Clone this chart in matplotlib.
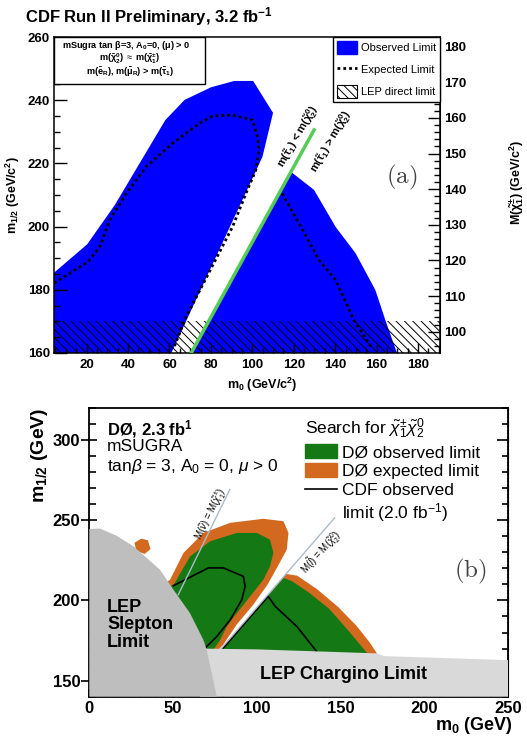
import matplotlib
matplotlib.use('Agg')
import matplotlib.pyplot as plt
from matplotlib.patches import Patch, Rectangle
from matplotlib.lines import Line2D
from matplotlib.ticker import MultipleLocator

plt.rcParams['font.family'] = ['Liberation Sans', 'DejaVu Sans']
plt.rcParams['mathtext.fontset'] = 'custom'
plt.rcParams['mathtext.rm'] = 'Liberation Sans'
plt.rcParams['mathtext.it'] = 'Liberation Sans:italic'
plt.rcParams['mathtext.bf'] = 'Liberation Sans:bold'
plt.rcParams['hatch.linewidth'] = 0.7

# ---------------- panel (a): CDF ----------------
obs_left_m0 = [4.3, 4.3, 20.3, 33.6, 58.0, 67.3, 80.1, 91.3, 100.4, 110.0, 104.9, 60.9]
obs_left_m12 = [160, 185.4, 194.4, 206.8, 233.7, 240.1, 244.1, 246.1, 246.1, 236.0, 222.1, 160]
obs_right_m0 = [70.5, 118.7, 129.8, 140.2, 149.8, 159.4, 164.2, 169.8]
obs_right_m12 = [160, 217.3, 211.6, 199.9, 191.6, 179.9, 170.4, 160]

exp_left_m0 = [4.3, 20.8, 26.4, 31.2, 39.2, 48.8, 61.6, 74.5, 80.9, 90.5, 100.1, 102.5,
               103.3, 101.7, 96.9, 90.5, 68.1, 62.0]
exp_left_m12 = [182.1, 188.9, 193.6, 202.1, 210.5, 219.0, 226.4, 232.7, 235.0, 235.3, 233.7,
                228.4, 224.2, 217.9, 210.5, 200.0, 171.5, 161.5]
exp_right_m0 = [114.4, 123.4, 132.2, 140.2, 149.0, 157.8]
exp_right_m12 = [210.5, 200.0, 189.4, 183.1, 170.4, 161.5]

tau_line_m0 = [70.5, 129.8]      # m(stau1) = m(chi20)
tau_line_m12 = [160.0, 230.6]
lep_direct_m12 = 170.2           # LEP direct chargino limit

a_xticks = [20, 40, 60, 80, 100, 120, 140, 160, 180]
a_yticks = [160, 180, 200, 220, 240, 260]
a_rticks = [100, 110, 120, 130, 140, 150, 160, 170, 180]

# ---------------- panel (b): D0 ----------------
orng_left_m0 = [48.2, 56.2, 68.1, 84.1, 103.9, 115.9, 118.9, 117.9, 112.5, 106.5, 98.0, 88.0, 80.0, 77.0, 70, 30]
orng_left_m12 = [212.9, 229.6, 242.1, 248.4, 250.9, 249.4, 242.1, 231.7, 221.3, 210.0, 197.5, 185.0, 172.5, 169.2, 150, 200]
grn_left_m0 = [50.5, 60.2, 72.2, 88.1, 100.0, 107.9, 109.9, 107.9, 103.9, 96.0, 88.1, 82.1, 78.1, 74.1, 70, 30]
grn_left_m12 = [210, 227.5, 236.9, 242.1, 242.1, 237.9, 229.6, 221.3, 212.9, 202.5, 192.1, 183.8, 175.4, 169.2, 150, 200]
orng_right_m0 = [70, 117.5, 124, 136, 148.5, 159.7, 167.7, 171.7, 172]
orng_right_m12 = [159.6, 216.5, 215.5, 207, 196, 184, 173.4, 167, 155]
grn_right_m0 = [71.5, 116, 121, 131, 143, 154, 162, 166, 166]
grn_right_m12 = [161, 214, 212, 205, 195, 182, 172, 167, 155]
orng_blob_m0 = [27, 31, 35, 36.5, 33, 28]
orng_blob_m12 = [236, 238.5, 237.5, 232, 229, 231]

cdf_left_m0 = [50.2, 71.1, 80.0, 92.0, 93.0, 91.0, 84.1, 76.1, 69.1]
cdf_left_m12 = [209.2, 220.3, 220.3, 215.0, 208.8, 200.4, 187.9, 177.5, 170.3]
cdf_right_m0 = [80.0, 106.8, 111.0, 123.9, 135.8]
cdf_right_m12 = [170.3, 202.6, 196.3, 183.8, 168.1]

snu_line_m0 = [53.1, 83.9]       # M(snu) = M(chi1+-)
snu_line_m12 = [203.6, 269.2]
slep_line_m0 = [78.1, 146.5]     # M(slepton) = M(chi20)
slep_line_m12 = [169.2, 251.5]

slepton_m0 = [0, 6.4, 16, 26.3, 42.2, 50.2, 60.1, 68.1, 70.1, 76.1, 0]
slepton_m12 = [244.6, 244.8, 240.5, 233.8, 219.2, 206.7, 192.1, 175.4, 169.2, 140, 140]
chargino_m0 = [66, 100, 172, 176, 250, 250, 66]
chargino_m12 = [170, 169.5, 167, 165.3, 162.8, 140, 140]

b_xticks = [0, 50, 100, 150, 200, 250]
b_yticks = [150, 200, 250, 300]


def cdf_to_chargino(m):
    return 0.887 * m - 47.9


def chargino_to_cdf(mc):
    return (mc + 47.9) / 0.887


fig = plt.figure(figsize=(5.27, 7.36), dpi=100)

# ======================= panel (a) =======================
ax = fig.add_axes([0.1025, 0.5204, 0.7325, 0.4293])
ax.fill(obs_left_m0, obs_left_m12, color='#0000ff', lw=0, zorder=1)
ax.fill(obs_right_m0, obs_right_m12, color='#0000ff', lw=0, zorder=1)
ax.axhspan(160, lep_direct_m12, facecolor='none', edgecolor='black', hatch='\\\\\\\\', lw=0, zorder=2)
ax.plot(exp_left_m0, exp_left_m12, color='black', ls=(0, (1, 1.1)), lw=2, zorder=3)
ax.plot(exp_right_m0, exp_right_m12, color='black', ls=(0, (1, 1.1)), lw=2, zorder=3)
ax.plot(tau_line_m0, tau_line_m12, color='#55cc55', lw=2.5, zorder=3)

ax.text(122.3, 228.6, r'm($\mathbf{\tilde{\tau}_1}$) < m($\mathbf{\tilde{\chi}^0_2}$)', rotation=60,
        ha='center', va='center', fontsize=8, fontweight='bold')
ax.text(138.0, 226.9, r'm($\mathbf{\tilde{\tau}_1}$) > m($\mathbf{\tilde{\chi}^0_2}$)', rotation=60,
        ha='center', va='center', fontsize=8, fontweight='bold')
ax.text(172, 215.7, r'$\mathrm{(a)}$', math_fontfamily='cm', fontsize=18, color='#444444',
        ha='center', va='center')

ax.set_xlim(4.3, 190.6)
ax.set_ylim(160, 260)
ax.set_xticks(a_xticks, labels=[str(v) for v in a_xticks], fontweight='bold', fontsize=9.5)
ax.set_yticks(a_yticks, labels=[str(v) for v in a_yticks], fontweight='bold', fontsize=9.5)
ax.xaxis.set_minor_locator(MultipleLocator(5))
ax.yaxis.set_minor_locator(MultipleLocator(5))
ax.tick_params(axis='x', which='major', direction='in', length=7, width=1, pad=4)
ax.tick_params(axis='x', which='minor', direction='in', length=3.5, width=1)
ax.tick_params(axis='y', which='major', direction='in', length=9, width=1, pad=3)
ax.tick_params(axis='y', which='minor', direction='in', length=4.5, width=1)
for s in ax.spines.values():
    s.set_linewidth(1.1)

sec = ax.secondary_yaxis('right', functions=(cdf_to_chargino, chargino_to_cdf))
sec.set_yticks(a_rticks, labels=[str(v) for v in a_rticks], fontweight='bold', fontsize=9.5)
sec.yaxis.set_minor_locator(MultipleLocator(2))
sec.tick_params(which='major', direction='in', length=8.5, width=1, pad=3)
sec.tick_params(which='minor', direction='in', length=4.5, width=1)
fig.text(517 / 527, 1 - 182 / 736, r'M($\mathbf{\tilde{\chi}^{\pm}_1}$) (GeV/c$^{\mathbf{2}}$)',
         fontweight='bold', fontsize=9, rotation=90, ha='center', va='center')

ax.set_xlabel(r'm$_{\mathbf{0}}$ (GeV/c$^{\mathbf{2}}$)', fontweight='bold', fontsize=9)
ax.xaxis.set_label_coords(0.539, -0.072)
ax.set_ylabel(r'm$_{\mathbf{1/2}}$ (GeV/c$^{\mathbf{2}}$)', fontweight='bold', fontsize=9)
ax.yaxis.set_label_coords(-0.083, 0.5)

# info box top left
ax.add_patch(Rectangle((0, 0.851), 0.391, 0.149, transform=ax.transAxes, fc='white', ec='black',
                       lw=1, zorder=5))
ax.text(0.02, 0.973, r'mSugra tan $\mathbf{\beta}$=3, A$_{\mathbf{0}}$=0, ($\mathbf{\mu}$) > 0',
        transform=ax.transAxes, fontsize=6.6, fontweight='bold', va='center', zorder=6)
ax.text(0.197, 0.931, r'm($\mathbf{\tilde{\chi}^0_2}$) $\approx$ m($\mathbf{\tilde{\chi}^{\pm}_1}$)',
        transform=ax.transAxes, fontsize=6.6, fontweight='bold', ha='center', va='center', zorder=6)
ax.text(0.197, 0.889, r'm($\mathbf{\tilde{e}_R}$), m($\mathbf{\tilde{\mu}_R}$) > m($\mathbf{\tilde{\tau}_1}$)',
        transform=ax.transAxes, fontsize=6.6, fontweight='bold', ha='center', va='center', zorder=6)

handles_a = [Patch(fc='#0000ff', ec='#0000ff'),
             Line2D([], [], color='black', ls=(0, (1, 1.1)), lw=2),
             Patch(fc='white', ec='black', hatch='\\\\\\\\', lw=0.8)]
leg_a = ax.legend(handles_a, ['Observed Limit', 'Expected Limit', 'LEP direct limit'],
                  loc='upper right', bbox_to_anchor=(1, 1), borderaxespad=0, fontsize=8,
                  frameon=True, fancybox=False, edgecolor='black', framealpha=1,
                  handlelength=1.8, handleheight=1.5, labelspacing=0.75, borderpad=0.35,
                  handletextpad=0.4)
leg_a.get_frame().set_linewidth(1)
leg_a.set_zorder(6)

fig.text(0.047, 0.969, r'CDF Run II Preliminary, 3.2 fb$^{\mathbf{-1}}$', fontsize=12,
         fontweight='bold')

# ======================= panel (b) =======================
bx = fig.add_axes([0.1695, 0.0534, 0.7945, 0.3923])
bx.fill(orng_left_m0, orng_left_m12, color='#d2691e', lw=0, zorder=1)
bx.fill(orng_right_m0, orng_right_m12, color='#d2691e', lw=0, zorder=1)
bx.fill(orng_blob_m0, orng_blob_m12, color='#d2691e', lw=0, zorder=1)
bx.fill(grn_left_m0, grn_left_m12, color='#147814', lw=0, zorder=2)
bx.fill(grn_right_m0, grn_right_m12, color='#147814', lw=0, zorder=2)
bx.plot(cdf_left_m0, cdf_left_m12, color='black', lw=1.2, zorder=3)
bx.plot(cdf_right_m0, cdf_right_m12, color='black', lw=1.2, zorder=3)
bx.plot(snu_line_m0, snu_line_m12, color='#a8bccc', lw=1, zorder=3)
bx.plot(slep_line_m0, slep_line_m12, color='#a8bccc', lw=1, zorder=3)
bx.fill(chargino_m0, chargino_m12, color='#d9d9d9', lw=0, zorder=4)
bx.fill(slepton_m0, slepton_m12, color='#bebebe', lw=0, zorder=5)

bx.text(72.7, 253.6, r'M($\tilde{\nu}$) = M($\tilde{\chi}^{\pm}_1$)', rotation=64, fontsize=7,
        ha='center', va='center', zorder=6)
bx.text(138.6, 230.4, r'M($\tilde{l}$) = M($\tilde{\chi}^{0}_2$)', rotation=48, fontsize=7,
        ha='center', va='center', zorder=6)
bx.text(10.6, 184.8, 'LEP\nSlepton\nLimit', fontsize=13, fontweight='bold', ha='left',
        va='center', linespacing=1.05, zorder=6)
bx.text(151.6, 153.6, 'LEP Chargino Limit', fontsize=13, fontweight='bold', ha='center',
        va='center', zorder=6)
bx.text(227.4, 218, r'$\mathrm{(b)}$', math_fontfamily='cm', fontsize=18, color='#444444',
        ha='center', va='center', zorder=6)

bx.text(10.6, 306.9, r'DØ, 2.3 fb$^{\mathbf{1}}$', fontsize=12, fontweight='bold', va='center')
bx.text(10.6, 296.0, 'mSUGRA', fontsize=12.5, va='center')
bx.text(10.6, 283.3, r'tan$\beta$ = 3, A$_0$ = 0, $\mu$ > 0', fontsize=12.5, va='center')

handles_b = [Patch(fc='#147814', ec='#147814'), Patch(fc='#d2691e', ec='#d2691e'),
             Line2D([], [], color='black', lw=1.2), Patch(fc='none', ec='none')]
leg_b = bx.legend(handles_b, ['DØ observed limit', 'DØ expected limit', 'CDF observed',
                              'limit (2.0 fb$^{-1}$)'],
                  title=r'Search for $\tilde{\chi}^{\pm}_1\tilde{\chi}^0_2$', title_fontsize=12.5,
                  alignment='left', loc='upper left', bbox_to_anchor=(0.515, 0.97),
                  frameon=False, fontsize=12.5, handlelength=1.85, handleheight=0.85,
                  labelspacing=0.18, borderpad=0, handletextpad=0.3, borderaxespad=0)
leg_b.set_zorder(7)

bx.set_xlim(0, 250)
bx.set_ylim(140, 320)
bx.set_xticks(b_xticks, labels=[str(v) for v in b_xticks], fontweight='bold', fontsize=12)
bx.set_yticks(b_yticks, labels=[str(v) for v in b_yticks], fontweight='bold', fontsize=12)
bx.xaxis.set_minor_locator(MultipleLocator(10))
bx.yaxis.set_minor_locator(MultipleLocator(10))
bx.tick_params(axis='x', which='major', direction='in', length=6, width=1.2, pad=3)
bx.tick_params(axis='x', which='minor', direction='in', length=3, width=1.2)
bx.tick_params(axis='y', which='major', direction='inout', length=11, width=1.2, pad=1)
bx.tick_params(axis='y', which='minor', direction='in', length=5, width=1.2)
for s in bx.spines.values():
    s.set_linewidth(1.3)

rsec = bx.secondary_yaxis('right')
rsec.set_yticks(b_yticks, labels=['' for v in b_yticks])
rsec.yaxis.set_minor_locator(MultipleLocator(10))
rsec.tick_params(which='major', direction='in', length=8, width=1.2)
rsec.tick_params(which='minor', direction='in', length=4, width=1.2)

bx.set_xlabel(r'm$_{\mathbf{0}}$ (GeV)', fontweight='bold', fontsize=13, ha='right')
bx.xaxis.set_label_coords(1.012, -0.064)
bx.set_ylabel(r'm$_{\mathbf{1/2}}$ (GeV)', fontweight='bold', fontsize=14, ha='right')
bx.yaxis.set_label_coords(-0.094, 1.0)

fig.savefig('out.png', dpi=100)
